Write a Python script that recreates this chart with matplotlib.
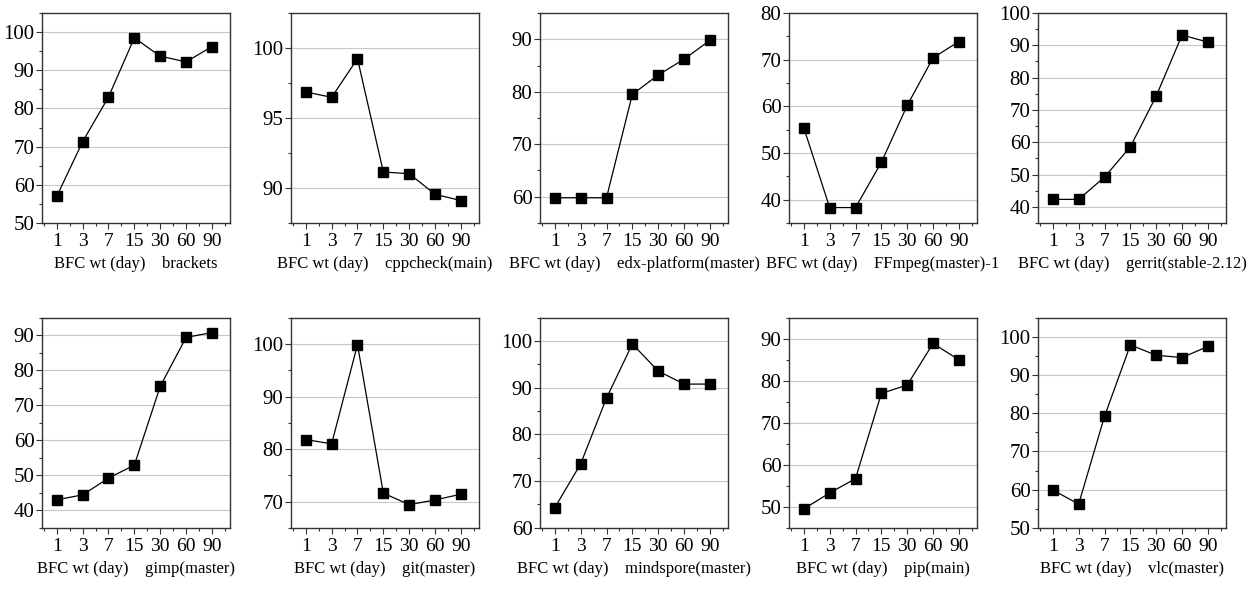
import matplotlib
matplotlib.use("Agg")
import matplotlib.pyplot as plt
from matplotlib.ticker import MultipleLocator, NullFormatter

plt.rcParams["font.family"] = ["Liberation Serif", "DejaVu Serif"]

days = ["1", "3", "7", "15", "30", "60", "90"]

names = [
    "brackets", "cppcheck(main)", "edx-platform(master)", "FFmpeg(master)-1",
    "gerrit(stable-2.12)", "gimp(master)", "git(master)", "mindspore(master)",
    "pip(main)", "vlc(master)",
]

brackets = [57.0, 71.3, 83.0, 98.5, 93.7, 92.2, 96.2]
cppcheck = [96.86, 96.48, 99.24, 91.14, 91.02, 89.55, 89.1]
edx = [59.8, 59.8, 59.8, 79.5, 83.2, 86.2, 89.8]
ffmpeg = [55.4, 38.3, 38.3, 48.0, 60.2, 70.4, 73.9]
gerrit = [42.3, 42.3, 49.2, 58.6, 74.3, 93.2, 91.0]
gimp = [43.0, 44.4, 49.2, 52.9, 75.4, 89.4, 90.8]
git = [81.8, 81.0, 99.9, 71.6, 69.4, 70.3, 71.4]
mindspore = [64.3, 73.7, 87.8, 99.4, 93.6, 90.8, 90.8]
pip = [49.5, 53.3, 56.7, 77.0, 79.0, 88.9, 85.0]
vlc = [59.9, 56.2, 79.2, 97.9, 95.2, 94.6, 97.5]

series = [brackets, cppcheck, edx, ffmpeg, gerrit, gimp, git, mindspore, pip, vlc]

ylims = [(50, 105), (87.5, 102.5), (55, 95), (35, 80), (35, 100),
         (35, 95), (65, 105), (60, 105), (45, 95), (50, 105)]
ysteps = [10, 5, 10, 10, 10, 10, 10, 10, 10, 10]

fig, axes = plt.subplots(2, 5, figsize=(12.59, 5.93), dpi=100)
fig.subplots_adjust(left=0.0334, right=0.9738, top=0.978, bottom=0.110,
                    wspace=0.325, hspace=0.452)

x = list(range(len(days)))
for ax, name, vals, ylim, step in zip(axes.flat, names, series, ylims, ysteps):
    ax.plot(x, vals, color="black", lw=0.9, marker="s", ms=7.5, zorder=3)
    ax.set_xlim(-0.57, 6.7)
    ax.set_ylim(*ylim)
    ax.set_xticks(x)
    ax.set_xticklabels(days)
    ax.xaxis.set_minor_locator(MultipleLocator(0.5))
    ax.xaxis.set_minor_formatter(NullFormatter())
    ax.yaxis.set_major_locator(MultipleLocator(step))
    ax.yaxis.set_minor_locator(MultipleLocator(step / 2))
    ax.grid(axis="y", which="major", color="#c8c8c8", lw=0.8)
    ax.set_axisbelow(True)
    ax.tick_params(which="major", direction="out", length=4.5, width=0.8,
                   color="#333333")
    ax.tick_params(which="minor", direction="out", length=2.5, width=0.8,
                   color="#333333")
    ax.tick_params(axis="x", which="major", labelsize=14, pad=3)
    ax.tick_params(axis="y", which="major", labelsize=15, pad=1)
    for sp in ax.spines.values():
        sp.set_color("#333333")
        sp.set_linewidth(1.0)
    ax.set_xlabel(f"BFC wt (day)    {name}", fontsize=12, labelpad=4)

fig.savefig("out.png", dpi=100)
